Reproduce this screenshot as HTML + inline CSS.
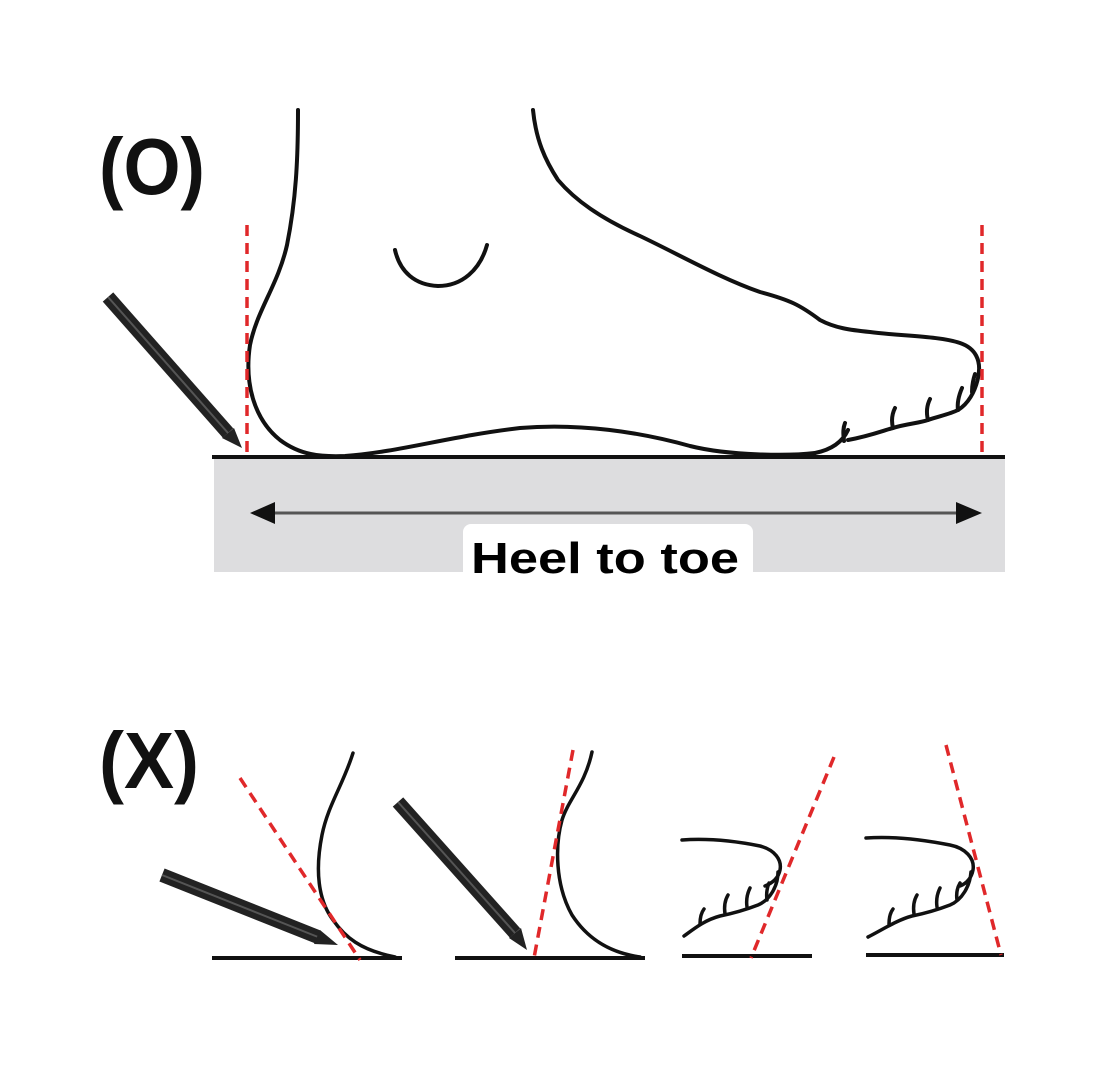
<!DOCTYPE html>
<html><head><meta charset="utf-8"><style>
html,body{margin:0;padding:0;background:#fff;}
svg{display:block;}
</style></head><body>
<svg width="1101" height="1080" viewBox="0 0 1101 1080" xmlns="http://www.w3.org/2000/svg">
<rect width="1101" height="1080" fill="#fff"/>
<!-- (O) -->
<text x="99" y="194" font-family="Liberation Sans, sans-serif" font-weight="bold" font-size="80" textLength="106" lengthAdjust="spacingAndGlyphs" fill="#111">(O)</text>
<!-- gray band -->
<rect x="214" y="459" width="791" height="113" fill="#dddddf"/>
<line x1="212" y1="457" x2="1005" y2="457" stroke="#111" stroke-width="4"/>
<!-- arrow -->
<line x1="268" y1="513" x2="965" y2="513" stroke="#555" stroke-width="3"/>
<polygon points="250,513 275,502 275,524" fill="#111"/>
<polygon points="982,513 956,502 956,524" fill="#111"/>
<rect x="463" y="524" width="290" height="70" rx="8" fill="#fff"/>
<text x="471" y="573" font-family="Liberation Sans, sans-serif" font-weight="bold" font-size="44" textLength="268" lengthAdjust="spacingAndGlyphs" fill="#000">Heel to toe</text>
<!-- foot -->
<g fill="none" stroke="#111" stroke-width="4" stroke-linecap="round" stroke-linejoin="round">
<path d="M298,110 C298,160 296,200 287,245 C278,285 257,310 250,345 C244,385 255,420 280,440 C300,455 320,457 345,456 C400,452 450,436 520,428 C580,423 640,432 690,446 C730,456 790,456 815,453"/>
<path d="M815,453 C830,450 842,443 848,430 M848,440 C870,436 885,430 893,428 C905,424 920,423 928,420 C940,416 950,414 958,410 C968,404 975,392 978,378 C982,360 975,348 960,343 C940,336 900,336 870,332 C850,330 835,328 820,320 C800,305 790,300 760,292 C720,278 680,255 640,236 C600,218 575,200 558,180 C545,160 536,140 533,110"/>
<path d="M844,441 C843,433 843,428 845,423"/>
<path d="M893,428 C891,420 892,414 895,408"/>
<path d="M928,420 C926,412 927,405 930,399"/>
<path d="M958,410 C957,403 959,395 962,388"/>
<path d="M972,392 C972,385 973,380 975,374"/>
<path d="M395,250 C400,272 415,285 438,286 C462,286 480,270 487,245"/>
</g>
<!-- red dashed -->
<g stroke="#e0282a" stroke-width="3.5" stroke-dasharray="11,7" fill="none">
<line x1="247" y1="225" x2="247" y2="458"/>
<line x1="982" y1="225" x2="982" y2="458"/>
</g>
<!-- pencil top -->
<g>
<line x1="108" y1="297" x2="228" y2="433" stroke="#222" stroke-width="14"/>
<line x1="108" y1="297" x2="228" y2="433" stroke="#555" stroke-width="2"/>
<polygon points="222,438 234,428 242,448" fill="#222"/>
</g>
<!-- (X) -->
<text x="99" y="788" font-family="Liberation Sans, sans-serif" font-weight="bold" font-size="80" textLength="100" lengthAdjust="spacingAndGlyphs" fill="#111">(X)</text>
<!-- ground lines -->
<g stroke="#111" stroke-width="4">
<line x1="212" y1="958" x2="402" y2="958"/>
<line x1="455" y1="958" x2="645" y2="958"/>
<line x1="682" y1="956" x2="812" y2="956"/>
<line x1="866" y1="955" x2="1004" y2="955"/>
</g>
<g fill="none" stroke="#111" stroke-width="3.5" stroke-linecap="round">
<path d="M353,753 C343,785 328,805 322,835 C315,870 318,900 333,920 C345,937 360,950 395,957"/>
<path d="M592,752 C585,785 568,800 562,820 C555,845 555,885 572,915 C585,935 605,952 640,957"/>
<path d="M682,840 C710,838 740,842 760,846 C775,850 782,860 780,870 C778,880 770,884 765,886 M778,872 C778,886 770,900 758,905 C745,910 730,914 720,916 C705,920 695,928 684,936"/>
<path d="M767,900 C766,893 767,888 769,883"/>
<path d="M747,907 C746,900 747,894 750,888"/>
<path d="M725,914 C724,907 725,900 728,895"/>
<path d="M700,924 C700,918 701,913 704,909"/>
<path d="M866,838 C895,836 925,840 950,845 C965,848 975,858 973,870 C971,880 965,884 960,886 M971,872 C970,886 962,900 950,905 C937,910 922,914 912,916 C897,920 882,930 868,937"/>
<path d="M957,900 C956,893 957,888 960,883"/>
<path d="M937,907 C936,900 937,894 940,888"/>
<path d="M914,914 C913,907 914,900 917,895"/>
<path d="M889,924 C889,918 890,913 893,909"/>
</g>
<g stroke="#e0282a" stroke-width="3.5" stroke-dasharray="11,7" fill="none">
<line x1="240" y1="778" x2="360" y2="960"/>
<line x1="573" y1="750" x2="534" y2="958"/>
<line x1="834" y1="757" x2="751" y2="958"/>
<line x1="946" y1="745" x2="1001" y2="955"/>
</g>
<!-- pencils bottom -->
<line x1="162" y1="875" x2="318" y2="937" stroke="#222" stroke-width="14"/>
<line x1="162" y1="875" x2="318" y2="937" stroke="#555" stroke-width="2"/>
<polygon points="314,944 320,930 338,945" fill="#222"/>
<line x1="398" y1="802" x2="515" y2="933" stroke="#222" stroke-width="14"/>
<line x1="398" y1="802" x2="515" y2="933" stroke="#555" stroke-width="2"/>
<polygon points="509,938 521,928 527,950" fill="#222"/>
</svg>
</body></html>
